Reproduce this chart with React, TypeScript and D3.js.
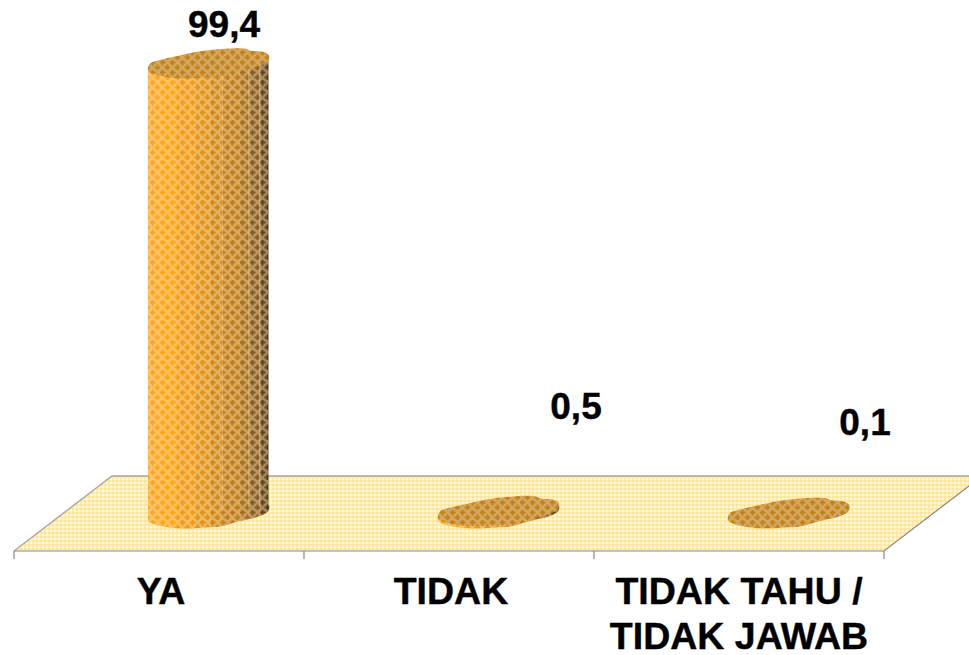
import React from "react";
import * as d3 from "d3";

const categories = ["YA", "TIDAK", "TIDAK TAHU /\nTIDAK JAWAB"];
const values = [99.4, 0.5, 0.1];
const valueLabels = ["99,4", "0,5", "0,1"];
const valueDomain = [0, 100];
const capOutline: [number, number][] = [
  [-60, 7], [-58, 0], [-50, -3], [-33, -7], [-3, -13], [37, -15], [42, -13], [57, -11], [61, -8],
  [60, -2], [50, 3], [30, 8], [12, 13], [-3, 14], [-23, 15], [-38, 14], [-53, 11],
];
const facetStops = [
  [0, "#ffa51c"], [0.12, "#ffa40e"], [0.24, "#f09a10"], [0.4, "#e09012"], [0.52, "#cf8512"],
  [0.62, "#bd7a14"], [0.76, "#a56c16"], [0.84, "#86591a"], [0.93, "#5f4418"], [0.98, "#4c3716"],
] as const;
const facetLines = [0.62, 0.84, 0.93];

export default function App() {
  const W = 969, H = 655;
  const frontY = 551, backY = 476, frontL = 14, frontR = 884, depthX = 98;
  const x = d3.scaleBand<string>().domain(categories).range([frontL, frontR]);
  const h = d3.scaleLinear().domain(valueDomain).range([0, 452.7]);
  const baseY = (frontY + backY) / 2;
  const capLine = d3.line<[number, number]>().x(d => d[0]).y(d => d[1]).curve(d3.curveCatmullRomClosed.alpha(0.5));
  const ticks = [frontL, ...categories.map(c => x(c)! + x.bandwidth())];
  const labelYs = [37, 419, 435];
  const labelXs = [224, 576, 865];
  const plus = (px: number, py: number) =>
    `M${px - 1} ${py - 3}h2v2h2v2h-2v2h-2v-2h-2v-2h2z`;
  const holes = plus(2.5, 2.5) + plus(7.5, 7.5);

  return (
    <svg width={W} height={H} viewBox={`0 0 ${W} ${H}`} style={{ position: "absolute", left: 0, top: 0, display: "block" }}>
      <defs>
        <pattern id="floorP" width="4" height="4" patternUnits="userSpaceOnUse">
          <rect width="4" height="4" fill="#fffbe6" />
          <rect width="2" height="4" fill="#ffdf80" fillOpacity="0.55" />
          <rect width="4" height="2" fill="#ffdf80" fillOpacity="0.55" />
        </pattern>
        <pattern id="lattice" width="10" height="10" patternUnits="userSpaceOnUse">
          <path d={`M0 0H10V10H0Z${holes}`} fillRule="evenodd" fill="#ffeacc" fillOpacity="0.42" />
        </pattern>
        <pattern id="capP" width="10" height="10" patternUnits="userSpaceOnUse">
          <rect width="10" height="10" fill="#c47f12" />
          <path d={`M0 0H10V10H0Z${holes}`} fillRule="evenodd" fill="#dcc6a0" fillOpacity="0.55" />
        </pattern>
        <linearGradient id="side" x1="0" x2="1" y1="0" y2="0">
          {facetStops.flatMap(([o, c], i) => {
            const next = i < facetStops.length - 1 ? facetStops[i + 1][0] : 1;
            return [
              <stop key={`${i}a`} offset={o} stopColor={c} />,
              <stop key={`${i}b`} offset={next} stopColor={c} />,
            ];
          })}
        </linearGradient>
      </defs>

      <polygon
        points={`${frontL},${frontY} ${frontR},${frontY} ${frontR + depthX},${backY} ${frontL + depthX},${backY}`}
        fill="url(#floorP)"
      />
      <path
        d={`M${frontL},${frontY}L${frontL + depthX},${backY}L${frontR + depthX},${backY}`}
        fill="none" stroke="#a6a6a6" strokeWidth="1.4"
      />
      <path d={`M${frontL},${frontY}H${frontR}L${frontR + depthX},${backY}`} fill="none" stroke="#868686" strokeWidth="1.2" />
      {ticks.map((t, i) => (
        <line key={i} x1={t} x2={t} y1={frontY} y2={frontY + 8} stroke="#868686" strokeWidth="1.2" />
      ))}

      {categories.map((c, i) => {
        const cx = x(c)! + x.bandwidth() / 2 + depthX / 2;
        const hh = h(values[i]);
        const base = capOutline.map(([dx, dy]) => [cx + dx, baseY + dy] as [number, number]);
        const cap = capOutline.map(([dx, dy]) => [cx + dx, baseY - hh + dy] as [number, number]);
        const body = `${capLine(base)!}M${cx - 60},${baseY - hh + 7}L${cx + 60.5},${baseY - hh - 8}V${baseY - 6}L${cx - 60},${baseY + 7}Z`;
        return (
          <g key={c}>
            <path d={body} fill="url(#side)" fillRule="nonzero" />
            <path d={body} fill="url(#lattice)" fillRule="nonzero" />
            {hh > 20 && facetLines.map(f => (
              <line key={f} x1={cx - 60 + 120 * f} x2={cx - 60 + 120 * f} y1={baseY - hh} y2={baseY + 6 - 14 * f}
                stroke="#e8d6b4" strokeOpacity="0.45" strokeWidth="1" />
            ))}
            <path d={capLine(cap)!} fill="url(#capP)" />
          </g>
        );
      })}

      {valueLabels.map((l, i) => (
        <text key={i} x={labelXs[i]} y={labelYs[i]} textAnchor="middle" stroke="#000" strokeWidth="0.4"
          fontFamily="Liberation Sans, Arial, sans-serif" fontWeight="700" fontSize="37" fill="#000">{l}</text>
      ))}
      {categories.map(c => {
        const lines = c.split("\n");
        return (
          <text key={c} textAnchor="middle" stroke="#000" strokeWidth="0.4"
            fontFamily="Liberation Sans, Arial, sans-serif" fontWeight="700" fontSize="37.5" fill="#000">
            {lines.map((s, j) => (
              <tspan key={j} x={x(c)! + x.bandwidth() / 2 + (lines.length > 1 ? 0 : 2)} y={603.5 + j * 45.5}>{s}</tspan>
            ))}
          </text>
        );
      })}
    </svg>
  );
}
